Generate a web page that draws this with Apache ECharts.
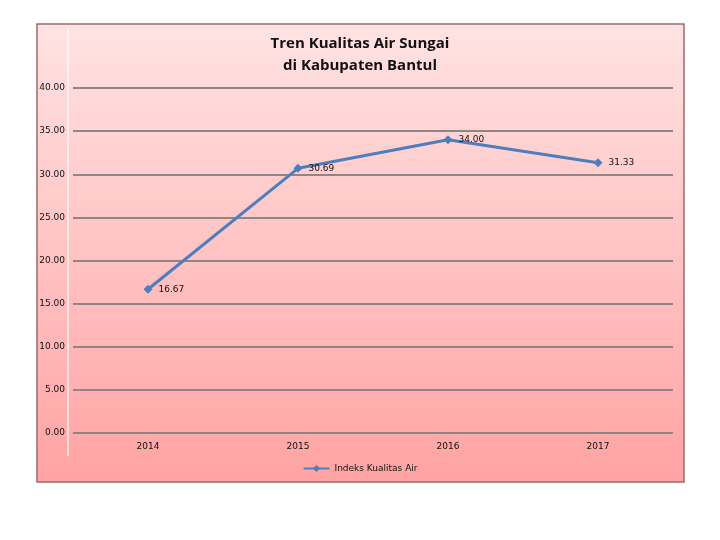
<!DOCTYPE html>
<html><head><meta charset="utf-8">
<script src="https://cdn.jsdelivr.net/npm/echarts@6/dist/echarts.min.js"></script>
<style>html,body{margin:0;padding:0;background:#fff}#c{width:720px;height:540px}</style>
</head><body><div id="c"></div>
<script>
const categories = ['2014', '2015', '2016', '2017'];
const seriesName = 'Indeks Kualitas Air';
const values = [16.67, 30.69, 34.00, 31.33];
const titleText = 'Tren Kualitas Air Sungai\ndi Kabupaten Bantul';

const chart = echarts.init(document.getElementById('c'));
chart.setOption({
  animation: false,
  graphic: [
    { type: 'rect', shape: { x: 37, y: 24, width: 647, height: 458 }, z: -10,
      style: { fill: new echarts.graphic.LinearGradient(0, 0, 0, 1, [
        { offset: 0, color: '#ffe3e3' }, { offset: 1, color: '#ffa3a3' }]),
        stroke: '#9a6b6e', lineWidth: 1.5 } },
    { type: 'line', shape: { x1: 68, y1: 28, x2: 68, y2: 456 }, z: -9,
      style: { stroke: '#ffffff', lineWidth: 1.5, opacity: 0.8 } }
  ],
  title: {
    text: titleText, left: 'center', top: 28,
    textStyle: { fontFamily: 'Open Sans', fontWeight: 'bold', fontSize: 15, lineHeight: 22, color: '#111' }
  },
  legend: {
    show: true, orient: 'horizontal', data: [seriesName], left: 'center', bottom: 62,
    itemWidth: 26, itemHeight: 9, itemGap: 4,
    textStyle: { fontFamily: 'DejaVu Sans', fontSize: 9, color: '#111' }
  },
  grid: { left: 73, right: 47, top: 88, bottom: 107, containLabel: false },
  xAxis: {
    type: 'category', data: categories, boundaryGap: true,
    axisLine: { show: false }, axisTick: { show: false },
    axisLabel: { margin: 9, fontFamily: 'DejaVu Sans', fontSize: 9, color: '#111' }
  },
  yAxis: {
    type: 'value', min: 0, max: 40, interval: 5,
    axisLine: { show: false }, axisTick: { show: false },
    axisLabel: { margin: 8, fontFamily: 'DejaVu Sans', fontSize: 9, color: '#111',
      formatter: v => v.toFixed(2) },
    splitLine: { lineStyle: { color: '#8f8585', width: 2 } }
  },
  series: [{
    name: seriesName, type: 'line', data: values,
    symbol: 'diamond', symbolSize: 9,
    lineStyle: { color: '#4f7ebf', width: 3 },
    itemStyle: { color: '#4f7ebf' },
    label: { show: true, position: 'right', distance: 6, fontFamily: 'DejaVu Sans', fontSize: 9, color: '#111',
      formatter: p => p.value.toFixed(2) }
  }]
});
</script></body></html>
